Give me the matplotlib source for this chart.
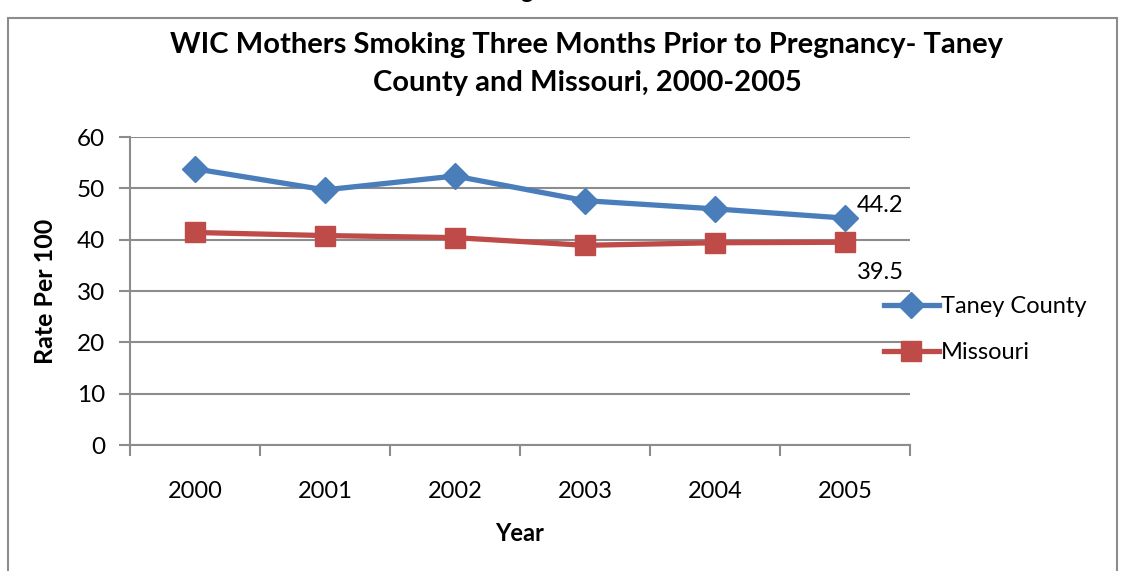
import matplotlib
matplotlib.use("Agg")
import matplotlib.pyplot as plt
from matplotlib.patches import Rectangle

years = ['2000', '2001', '2002', '2003', '2004', '2005']
taney = [53.8, 49.7, 52.4, 47.6, 46.0, 44.2]
missouri = [41.4, 40.8, 40.4, 38.9, 39.4, 39.5]
y_ticks = [0, 10, 20, 30, 40, 50, 60]

blue = '#4a7ebb'
red = '#be4b48'
grid_gray = '#8c8c8c'

plt.rcParams['font.family'] = ['Lato', 'DejaVu Sans']

fig = plt.figure(figsize=(11.25, 5.71), dpi=100)

# outer frame of the chart area
fig.patches.append(Rectangle((8 / 1125, -0.05), 1109 / 1125, 1.05 - 18 / 571,
                             transform=fig.transFigure, fill=False,
                             edgecolor='#8c8c8c', linewidth=1.5))
# cut-off text above the frame
fig.text(527 / 1125, 1 + 9 / 571, 'g', ha='center', va='center',
         fontsize=17, fontweight='bold')

ax = fig.add_axes([130 / 1125, 1 - 445 / 571, 780 / 1125, 308 / 571])
x = list(range(len(years)))

ax.plot(x, taney, color=blue, linewidth=3.8, marker='D', markersize=13,
        label='Taney County', zorder=3)
ax.plot(x, missouri, color=red, linewidth=3.8, marker='s', markersize=14.5,
        label='Missouri', zorder=3)

ax.text(x[-1] + 0.27, taney[-1] + 2.4, f'{taney[-1]}', fontsize=17,
        ha='center', va='center')
ax.text(x[-1] + 0.27, missouri[-1] - 5.8, f'{missouri[-1]}', fontsize=17,
        ha='center', va='center')

ax.set_xlim(-0.5, len(years) - 0.5)
ax.set_ylim(0, 60)
ax.set_yticks(y_ticks)
ax.set_xticks(x)
ax.set_xticklabels(years)
ax.set_xticks([i - 0.5 for i in range(len(years) + 1)], minor=True)
ax.tick_params(axis='x', which='major', length=0, pad=26, labelsize=17)
ax.tick_params(axis='x', which='minor', length=8, color=grid_gray, width=1.5)
ax.tick_params(axis='y', length=8, color=grid_gray, width=1.5, pad=10,
               labelsize=17.5)

ax.grid(axis='y', color=grid_gray, linewidth=1.5, zorder=0)
for side in ['top', 'right']:
    ax.spines[side].set_visible(False)
for side in ['left', 'bottom']:
    ax.spines[side].set_color(grid_gray)
    ax.spines[side].set_linewidth(1.5)

ax.set_xlabel('Year', fontsize=17, fontweight='bold', labelpad=14)
ax.set_ylabel('Rate Per 100', fontsize=18, fontweight='bold', labelpad=14)

fig.text(587 / 1125, 1 - 64 / 571,
         'WIC Mothers Smoking Three Months Prior to Pregnancy- Taney\n'
         'County and Missouri, 2000-2005',
         ha='center', va='center', fontsize=21, fontweight='bold',
         linespacing=1.55)

leg = ax.legend(loc='upper left', bbox_to_anchor=(0.955, 0.514), frameon=False,
                fontsize=17, handlelength=2.3, handletextpad=0.1,
                labelspacing=1.05, borderaxespad=0)

fig.savefig('out.png', dpi=100)
